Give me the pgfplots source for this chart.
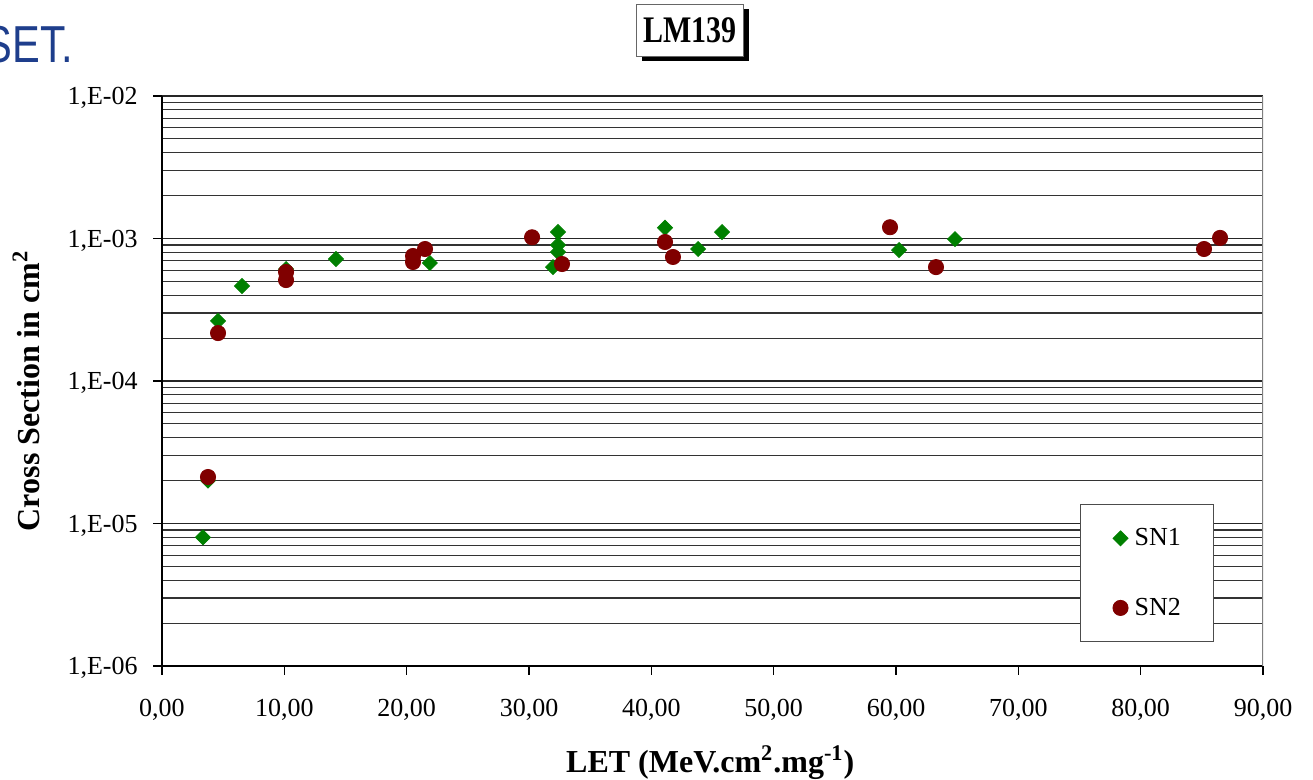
\documentclass[border=0pt]{standalone}
\usepackage{fontspec}
\setmainfont{Liberation Serif}
\newfontfamily\setfont{Liberation Sans}
\usepackage{graphicx}
\usepackage{pgfplots}
\pgfplotsset{compat=1.18}
\usetikzlibrary{shadows}
\definecolor{snone}{RGB}{0,128,0}
\definecolor{sntwo}{RGB}{128,0,0}
\definecolor{setblue}{RGB}{30,62,140}
\begin{document}
\begin{tikzpicture}
\useasboundingbox (0,0) rectangle (656.5pt,390pt);
\node[anchor=base west, inner sep=0pt, text=setblue, font=\setfont\fontsize{26}{30}\selectfont] at (-7.8pt,358.5pt) {\scalebox{0.8}[1]{SET.}};
\node[draw=black!60, fill=white, minimum width=53.5pt, minimum height=26pt, inner sep=0pt,
  drop shadow={shadow xshift=2.5pt, shadow yshift=-2.5pt, fill=black, opacity=1},
  font=\bfseries\fontsize{15}{18}\selectfont] at (345pt,375pt) {\scalebox{1}[1.25]{LM139}};
\begin{axis}[
  at={(81pt,57pt)}, anchor=south west,
  scale only axis, width=550.5pt, height=285pt,
  xmin=0, xmax=90, ymode=log, ymin=1e-6, ymax=1e-2,
  axis x line*=bottom, axis y line*=left,
  axis line style={-, black, line width=0.8pt},
  xtick={0,10,20,30,40,50,60,70,80,90},
  xticklabels={{0,00},{10,00},{20,00},{30,00},{40,00},{50,00},{60,00},{70,00},{80,00},{90,00}},
  ytick={1e-6,1e-5,1e-4,1e-3,1e-2},
  yticklabels={{1,E-06},{1,E-05},{1,E-04},{1,E-03},{1,E-02}},
  /pgf/number format/assume math mode=true,
  tick align=outside, major tick length=4.5pt, minor tick length=0pt,
  tick style={black, line width=0.6pt},
  tick label style={font=\fontsize{13}{15}\selectfont},
  xticklabel style={anchor=base, inner sep=0pt, yshift=-21pt},
  yticklabel style={anchor=base east, inner sep=0pt, xshift=-7.5pt, yshift=-4.25pt},
  ymajorgrids=true, yminorgrids=true,
  major grid style={black!85, line width=0.6pt},
  minor grid style={black!80, line width=0.55pt},
  xlabel={LET (MeV.cm\textsuperscript{2}.mg\textsuperscript{-1})},
  ylabel={Cross Section in cm\textsuperscript{2}},
  label style={font=\bfseries\fontsize{16}{19}\selectfont},
  xlabel style={at={(axis description cs:0.498,-0.1877)}, anchor=base},
  ylabel style={at={(axis description cs:-0.1110,0.483)}, anchor=base, rotate=0},
  legend style={at={(0.8338,0.2842)}, anchor=north west, draw=black!70, fill=white,
    inner xsep=16.25pt, inner ysep=11.9pt, row sep=24.7pt, column sep=3.25pt,
    nodes={inner sep=0pt}, font=\fontsize{13}{15}\selectfont},
  legend cell align=left,
  legend image code/.code={\draw[#1] plot coordinates {(0pt,0pt)};},
]
\addplot[only marks, mark=square*, mark size=2.65pt, mark options={rotate=45, fill=snone, draw=snone}] coordinates {
(3.35,8.0e-6) (3.76,2.0e-5) (4.58,2.64e-4) (6.54,4.64e-4) (10.14,6.1e-4)
(14.22,7.18e-4) (21.9,6.73e-4) (32.37,1.11e-3) (32.37,9.0e-4) (32.37,8.04e-4)
(31.96,6.3e-4) (41.12,1.19e-3) (43.82,8.44e-4) (45.78,1.11e-3) (60.25,8.3e-4)
(64.82,9.9e-4)
};
\addlegendentry{SN1}
\addplot[only marks, mark=*, mark size=3.8pt, mark options={fill=sntwo, draw=sntwo}] coordinates {
(3.76,2.12e-5) (4.58,2.17e-4) (10.14,5.82e-4) (10.14,5.11e-4) (20.52,7.54e-4)
(20.52,6.84e-4) (21.5,8.44e-4) (30.25,1.02e-3) (32.7,6.62e-4) (41.12,9.45e-4)
(41.77,7.42e-4) (59.51,1.2e-3) (63.27,6.3e-4) (85.18,8.44e-4) (86.49,1.01e-3)
};
\addlegendentry{SN2}
\draw[black!50, line width=0.6pt] (rel axis cs:1,0) -- (rel axis cs:1,1);
\end{axis}
\end{tikzpicture}
\end{document}
